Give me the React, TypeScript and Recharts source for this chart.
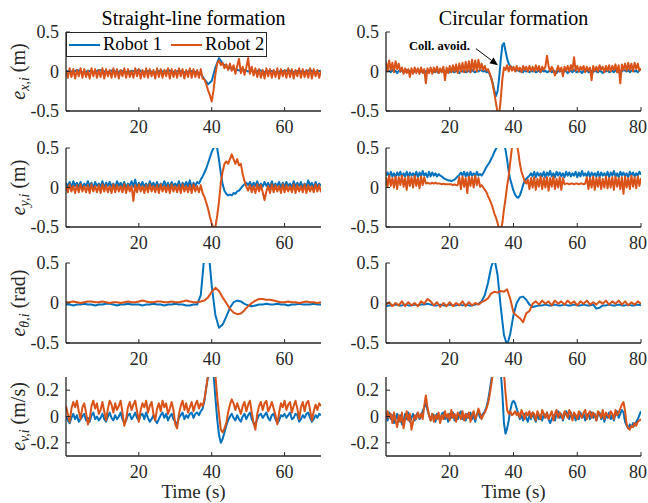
import React from "react";
import { LineChart, Line, XAxis, YAxis, Legend, ReferenceLine } from "recharts";

const BLUE = "#0072BD";
const ORANGE = "#D95319";
const AX = "#262626";
const FONT = "'Liberation Serif', 'Times New Roman', serif";

// sample spacing (s)
const DT_FINE = 0.5;
const DT_COARSE = 1;

// ---- Straight-line formation (0..70 s) ----
const exS1 = [
  0, .01, -.01, .02, 0, -.02, .01, 0, -.01, .02,
  .01, -.01, 0, .02, -.02, .01, 0, -.01, .01, 0,
  .02, -.01, 0, .01, -.02, 0, .01, -.01, .02, 0,
  -.01, .01, 0, -.02, .01, 0, -.01, -.03, -.1, -.16,
  -.12, .05, .17, .1, .06, .04, .03, .02, .01, .02,
  0, .01, -.01, .02, 0, -.01, .01, 0, -.02, .01,
  0, .02, -.01, 0, .01, -.01, 0, .02, -.01, 0,
  .01,
];
const exS2 = [
  .02, -.08, .04, -.07, .03, -.09, .02, -.06, .04, -.08,
  .03, -.07, .01, -.09, .04, -.06, .03, -.08, .02, -.07,
  .04, -.09, .03, -.06, .02, -.08, .04, -.07, .03, -.09,
  .02, -.06, .04, -.08, .03, -.07, .01, -.08, .04, -.06,
  .03, -.09, .02, -.07, .04, -.08, .03, -.06, .02, -.09,
  .04, -.07, .03, -.08, .02, -.06, .04, -.09, .03, -.07,
  .02, -.08, .04, -.06, .03, -.09, .02, -.07, .04, -.08,
  .03, -.07, .02, -.08, .03, -.09, -.1, -.16, -.24, -.3,
  -.38, -.24, -.04, .1, .14, .08, .11, .04, .09, .02,
  .1, .01, .08, -.03, .07, .16, -.02, .06, -.04, .05,
  .17, -.03, .06, -.05, .04, -.07, .03, -.08, .02, -.09,
  .04, -.06, .03, -.08, .02, -.07, .04, -.09, .03, -.06,
  .02, -.08, .04, -.07, .03, -.09, .02, -.06, .04, -.08,
  .03, -.07, .02, -.08, .04, -.09, .03, -.06, .02, -.08,
  .01,
];
const eyS1 = [
  .06, .01, .07, 0, .08, .02, .06, .01, .07, 0,
  .05, .02, .08, .01, .06, 0, .07, .02, .05, .01,
  .08, 0, .06, .02, .07, .01, .05, 0, .08, .02,
  .06, .01, .07, 0, .05, .02, .08, .01, .1, 0,
  .06, .02, .07, .01, .05, 0, .08, .02, .06, .01,
  .07, 0, .05, .02, .08, .01, .06, 0, .07, .02,
  .05, .01, .08, 0, .06, .02, .07, .01, .09, 0,
  .06, .02, .07, .05, .1, .14, .19, .24, .31, .38,
  .45, .5, .53, .5, .35, .18, .04, -.04, -.08, -.1,
  -.09, -.1, -.07, -.08, -.05, -.04, -.01, .02, .04, .06,
  .03, .07, .01, .06, .02, .08, 0, .05, .01, .07,
  .02, .06, 0, .08, .01, .05, .02, .07, 0, .06,
  .01, .07, .02, .05, 0, .08, .01, .06, .02, .07,
  0, .05, .01, .09, .02, .06, 0, .07, .01, .05,
  .02,
];
const eyS2 = [
  .03, -.06, .04, -.05, .02, -.07, .03, -.06, .04, -.05,
  .02, -.06, .03, -.07, .04, -.05, .02, -.06, .03, -.07,
  .04, -.05, .03, -.06, .02, -.07, .04, -.06, .03, -.05,
  .02, -.06, .04, -.07, .03, -.05, .02, -.17, .03, -.06,
  .04, -.05, .02, -.07, .03, -.06, .04, -.05, .02, -.06,
  .03, -.07, .04, -.05, .02, -.06, .03, -.07, .04, -.05,
  .02, -.06, .03, -.07, .04, -.05, .02, -.06, .03, -.07,
  .04, -.05, .02, -.06, .03, -.07, -.12, -.19, -.27, -.37,
  -.46, -.52, -.5, -.36, -.18, .06, .2, .3, .33, .3,
  .36, .42, .36, .3, .36, .28, .3, .17, .08, .01,
  -.04, .03, -.06, .02, -.07, .04, -.05, .03, -.06, -.16,
  -.05, .02, -.07, .04, -.06, .03, -.05, .02, -.07, .04,
  -.06, .03, -.05, .02, -.06, .04, -.07, .03, -.05, .02,
  -.06, .04, -.07, .03, -.05, .02, -.06, .04, -.05, .03,
  -.06,
];
const ethS1 = [
  -.02, -.02, -.03, -.02, -.02, -.01, -.02, -.02, -.03, -.02,
  -.02, -.01, -.01, -.02, -.03, -.02, -.02, -.01, -.02, -.02,
  -.02, -.03, -.02, -.02, -.01, -.02, -.02, -.03, -.02, -.02,
  -.01, -.02, -.02, -.03, -.03, -.02, -.02, .1, .6, .72,
  .22, -.15, -.31, -.27, -.17, -.06, .01, .03, .02, -.01,
  -.03, -.04, -.03, -.02, -.02, -.01, -.02, -.02, -.01, -.02,
  -.02, -.03, -.02, -.02, -.01, -.02, -.02, -.02, -.01, -.02,
  -.02,
];
const ethS2 = [
  .01, .01, .02, .01, 0, .01, .02, .02, .01, .01,
  .02, .01, 0, .01, .01, 0, .01, .02, .01, .01,
  .02, .03, .02, .01, .01, .02, .02, .01, .01, .02,
  .01, .01, .02, .03, .02, .01, .01, .02, .03, .07,
  .14, .19, .15, .07, 0, -.07, -.12, -.14, -.13, -.09,
  -.04, 0, .03, .05, .05, .04, .04, .03, .02, .01,
  .01, .02, .01, .01, 0, .01, .02, .01, .01, 0,
  .01,
];
const evS1 = [
  0, -.03, -.05, -.01, .02, -.02, .01, -.04, -.02, 0,
  .02, -.03, -.01, -.04, .01, .03, -.02, 0, -.03, -.01,
  .02, -.02, -.04, 0, .03, -.01, -.03, .01, -.02, 0,
  .03, -.02, -.05, -.03, .01, .02, -.02, 0, .03, -.01,
  -.03, .01, .02, -.02, .03, -.01, -.04, -.02, .01, -.03,
  -.05, -.02, .01, .03, -.01, .02, -.03, 0, .02, -.02,
  -.04, -.06, -.01, .01, .03, -.02, .01, -.01, .02, .03,
  -.01, .02, .03, .01, .04, .06, .12, .22, .3, .35,
  .36, .32, .15, -.02, -.14, -.2, -.17, -.12, -.07, -.03,
  0, .02, -.01, -.03, .01, -.02, -.04, 0, .02, -.02,
  .01, .03, -.02, -.05, -.06, -.02, .01, .02, -.01, .01,
  .03, -.01, -.03, .01, .02, -.02, -.05, -.03, .01, 0,
  .02, -.01, .01, .03, -.02, -.01, .02, .01, -.04, -.02,
  .01, -.01, .02, .03, -.01, -.04, -.02, .01, -.01, .02,
  .01,
];
const evS2 = [
  .08, .02, -.04, .06, .11, .07, .12, .04, -.02, .07,
  .1, .03, -.06, -.02, .08, .12, .06, .1, .02, .05,
  .11, .04, -.03, .06, .12, .09, .03, .1, .05, .08,
  .12, .03, -.07, -.02, .07, .11, .05, .09, .12, .04,
  -.04, .05, .1, .07, .12, .03, .08, .11, .02, -.03,
  .06, .1, .04, .12, .07, .1, .02, .06, .11, .05,
  -.06, -.09, .02, .08, .12, .05, .1, .03, .07, .11,
  .04, .09, .12, .06, .1, .08, .13, .22, .32, .38,
  .4, .38, .32, .15, .02, -.1, -.12, -.09, -.05, .03,
  .09, .13, .1, .05, .1, .06, .02, .08, .11, .04,
  .09, .12, .03, -.05, -.1, .02, .08, .11, .05, .1,
  .12, .04, .07, .11, .06, .01, -.06, .03, .1, .07,
  .12, .05, .09, .11, .03, .08, .12, .06, -.02, .07,
  .11, .04, .1, .12, .05, -.03, .04, .09, .05, .1,
  .08,
];

// ---- Circular formation (0..80 s) ----
const exC1 = [
  .02, 0, .01, -.01, .02, 0, .01, -.02, .01, 0,
  .01, -.01, 0, .02, -.01, .01, 0, -.02, .01, 0,
  .02, -.01, 0, .01, -.02, 0, .01, -.01, .02, 0,
  -.01, .01, 0, -.02, .01, 0, .02, -.01, 0, .01,
  -.01, .02, 0, -.01, .01, 0, -.02, .01, 0, .02,
  -.01, 0, .01, -.01, .02, 0, -.01, .01, 0, .02,
  .01, 0, .01, -.01, 0, -.03, -.08, -.15, -.24, -.31,
  -.25, -.08, .15, .33, .36, .26, .16, .1, .07, .05,
  .03, .02, .01, .02, 0, .01, -.01, .02, 0, .01,
  -.01, .01, 0, .02, -.01, 0, .01, -.01, .02, 0,
  .01, -.01, 0, .02, -.01, .01, 0, -.02, .01, 0,
  .02, -.01, 0, .01, -.02, 0, .01, -.01, .02, 0,
  -.01, .01, 0, -.02, .01, 0, .02, -.01, 0, .01,
  -.01, .02, 0, -.01, .01, 0, -.02, .01, 0, .02,
  -.01, 0, .01, -.01, .02, 0, -.01, .01, 0, .02,
  .01, 0, .02, -.01, .01, .02, 0, .01, -.01, .02, .03,
];
const exC2 = [
  .12, 0, .14, .02, .11, -.01, .13, .03, .1, 0,
  .05, -.03, .04, -.02, .03, -.07, .04, -.03, .05, -.02,
  .04, -.03, .05, -.02, .03, -.15, .04, -.02, .05, -.03,
  .05, -.01, .06, -.02, .04, -.01, .06, -.11, .05, -.02,
  .07, -.01, .08, 0, .09, -.02, .1, 0, .11, -.01,
  .12, 0, .13, -.01, .15, .01, .14, 0, .15, .02,
  .1, .02, .07, .01, .03, -.02, -.08, -.17, -.28, -.4,
  -.52, -.55, -.35, -.1, .05, .02, .08, 0, .07, .01,
  .06, 0, .07, .01, .05, -.01, .07, .02, .06, 0,
  .07, .01, .06, 0, .08, .01, .07, -.01, .06, .02,
  .06, .2, .07, 0, .06, .02, -.05, .01, .07, 0,
  .05, -.06, .06, .01, .07, 0, .08, .02, .18, .01,
  .07, 0, .06, .02, .07, -.01, .06, .01, .05, -.11,
  .07, .01, .06, 0, .08, .02, .06, -.01, .07, .01,
  .08, 0, .07, .02, .09, -.01, .08, -.15, .09, .02,
  .1, .01, .11, .02, .1, 0, .11, .03, .1, .01, .04,
];
const eyC1 = [
  .15, .19, .13, .2, .14, .18, .13, .19, .15, .2,
  .13, .18, .14, .2, .13, .19, .15, .18, .14, .2,
  .13, .19, .14, .21, .15, .18, .13, .2, .14, .19,
  .15, .18, .14, .17, .15, .14, .12, .11, .1, .09,
  .09, .08, .09, .1, .12, .14, .16, .19, .15, .2,
  .14, .19, .13, .2, .15, .18, .14, .2, .15, .17,
  .15, .18, .22, .26, .29, .32, .36, .4, .45, .49,
  .52, .56, .58, .57, .54, .48, .35, .2, .1, .03,
  -.04, -.09, -.12, -.13, -.1, -.04, .03, .08, .11, .13,
  .15, .18, .14, .2, .13, .19, .15, .18, .14, .2,
  .13, .19, .15, .21, .14, .18, .13, .2, .15, .19,
  .14, .18, .13, .2, .15, .19, .14, .18, .15, .2,
  .13, .19, .14, .21, .15, .18, .14, .2, .13, .19,
  .15, .18, .14, .2, .13, .19, .15, .18, .14, .2,
  .13, .19, .15, .21, .14, .18, .13, .2, .15, .19,
  .14, .18, .13, .2, .15, .19, .14, .18, .15, .2, .16,
];
const eyC2 = [
  .13, .01, .15, .02, .12, 0, .14, -.02, .13, .03,
  .15, .01, .12, -.03, .14, .02, .13, 0, .15, .02,
  .12, -.01, .14, .03, .13, .05, .06, .05, .05, .06,
  .05, .06, .05, .05, .05, .04, .05, .04, .04, .04,
  .04, .04, .03, .04, .03, .03, .13, -.02, .14, .01,
  .12, -.07, .14, .02, .13, 0, .15, .03, .12, .01,
  .03, 0, -.03, -.06, -.11, -.15, -.2, -.26, -.33, -.38,
  -.45, -.52, -.55, -.45, -.28, -.14, .02, .15, .33, .5,
  .58, .6, .56, .45, .3, .2, .14, .08, .05, .1,
  -.02, .12, 0, .13, -.03, .11, .01, .14, -.02, .12,
  0, .13, -.04, .12, .01, .14, -.02, .11, 0, .13,
  -.03, .12, .04, .05, .05, .04, .05, .05, .04, .05,
  .05, .04, .05, .05, .04, .05, .13, -.02, .12, 0,
  .14, -.03, .12, .01, .13, -.02, .11, 0, .14, -.01,
  .12, 0, .13, -.03, .14, .01, .12, -.02, .13, -.08,
  .14, 0, .12, -.02, .15, .01, .13, -.01, .14, .02, .12,
];
const ethC1 = [
  -.04, -.03, -.03, -.02, -.03, -.03, -.02, -.03, -.03, -.02,
  -.03, -.02, -.02, -.01, -.02, -.03, -.03, -.02, -.03, -.03,
  -.02, -.03, -.03, -.02, -.03, -.02, -.03, -.03, -.02, -.01,
  .02, .1, .25, .45, .56, .35, -.05, -.4, -.53, -.38,
  -.15, 0, .07, .08, .04, -.02, -.05, -.04, -.03, -.03,
  -.02, -.03, -.03, -.02, -.03, -.03, -.02, -.03, -.03, -.02,
  -.03, -.03, -.02, -.03, -.03, -.02, -.07, -.06, -.03, -.03,
  -.02, -.03, -.03, -.02, -.03, -.03, -.02, -.03, -.03, -.02,
  -.03,
];
const ethC2 = [
  -.02, .01, -.04, 0, -.03, .02, -.04, .01, -.03, 0,
  -.04, .02, -.01, .05, .02, -.03, .01, -.05, 0, -.04,
  .01, -.04, 0, -.03, .02, -.04, .01, -.03, 0, -.02,
  .01, .03, .06, .12, .14, .13, .15, .14, .17, .05,
  -.12, -.16, -.19, -.24, -.13, -.1, -.01, .02, -.02, .03,
  -.01, .02, -.03, .03, -.01, .02, -.02, .03, -.01, .02,
  -.03, .02, -.01, .03, -.02, .01, -.02, .02, -.01, .03,
  -.02, .02, -.01, .03, -.02, .02, -.03, .01, -.02, .02,
  -.01,
];
const evC1 = [
  .02, -.03, .03, -.02, .01, -.05, -.02, .02, -.04, .01,
  -.06, -.03, .02, -.02, .03, -.04, -.01, .02, -.03, .01,
  .03, -.02, .01, .04, .07, .1, .05, .01, -.03, .02,
  .01, -.04, .02, -.01, -.03, .02, .03, -.02, .01, -.04,
  .02, -.01, .03, -.03, .01, -.02, .02, .04, -.02, .01,
  -.03, .02, -.01, .03, -.02, .01, -.04, .02, .03, -.01,
  .01, .02, .04, .07, .12, .19, .27, .35, .42, .45,
  .44, .4, .34, .18, -.05, -.13, -.09, -.03, .05, .1,
  .12, .1, .06, .02, -.02, .01, -.03, .02, -.01, -.04,
  .01, -.02, .03, -.01, -.04, .02, -.02, .01, -.03, .02,
  -.01, .03, -.02, -.05, -.02, .01, -.03, .02, .04, -.01,
  .02, -.03, .01, .04, .02, -.02, .03, -.01, .02, -.03,
  .01, -.02, .03, -.01, .02, -.03, .01, .02, -.02, .03,
  -.01, .02, -.03, .01, .03, -.02, .01, -.04, .02, -.01,
  .03, -.02, .01, -.03, .02, .04, -.01, .02, .05, .03,
  -.04, -.07, -.09, -.06, -.08, -.05, -.07, -.04, -.02, .01, .04,
];
const evC2 = [
  -.02, .04, -.01, .02, -.05, .03, -.03, -.08, .01, -.04,
  .03, -.09, -.02, .04, -.03, .02, -.1, -.04, .01, -.02,
  .03, -.01, .02, -.02, .08, .16, .07, .01, -.03, .02,
  -.04, .01, -.02, .03, -.05, .01, -.02, .04, -.01, .02,
  -.03, .05, -.01, .02, -.04, .03, .01, -.02, .04, -.03,
  .02, -.01, .03, -.04, .01, .04, -.02, .01, .06, .02,
  -.02, .01, .03, .06, .1, .16, .24, .32, .4, .45,
  .47, .46, .44, .4, .33, .18, .05, .02, .04, .01,
  .02, .04, .01, .03, -.01, .05, .02, -.02, .03, .01,
  .04, -.01, .03, .02, -.03, .04, .01, -.02, .05, .02,
  -.01, .03, -.02, .01, .04, -.03, .02, .05, -.01, .03,
  .01, -.02, .04, .02, -.01, .05, .02, -.03, .03, .01,
  -.02, .04, .01, -.01, .03, .05, -.02, .02, .04, -.01,
  .03, .01, -.03, .04, .02, -.01, .05, -.02, .03, .01,
  -.01, .04, .02, -.02, .05, .01, .03, .06, .09, .11,
  .04, -.06, -.09, -.1, -.07, -.08, -.05, -.07, -.04, -.03, -.02,
];

const seriesNames = ["Robot 1", "Robot 2"];
const colTitles = ["Straight-line formation", "Circular formation"];
const rowLabels = [
  { sub: "x,i", unit: "(m)" },
  { sub: "y,i", unit: "(m)" },
  { sub: "\u03b8,i", unit: "(rad)" },
  { sub: "v,i", unit: "(m/s)" },
];
const xMaxes = [70, 80];
const xTicksByCol = [[20, 40, 60], [20, 40, 60, 80]];
const yDomainErr: [number, number] = [-0.5, 0.5];
const yTicksErr = [-0.5, 0, 0.5];
const yDomainVel: [number, number] = [-0.3, 0.3];
const yTicksVel = [-0.2, 0, 0.2];
// annotation arrow (time, value) on circular e_x
const noteFrom = [28.2, 0.29];
const noteTo = [35.1, 0.08];

// layout
const PAGE_W = 648;
const COL_X = [66, 386];
const PLOT_W = 255;
const ROW_Y = [32, 148, 263, 377];
const ROW_H = [79, 79, 80, 79];
const ML = 60, MT = 12, MR = 14, MB = 30;

const toSeries = (vals: number[], dt: number) => vals.map((v, i) => ({ t: i * dt, v }));

const tickFn = (side: "bottom" | "top" | "left" | "right", label: boolean, maxLabelX = Infinity) => (p: any) => {
  const { x, y, payload } = p;
  const L = 4;
  let ln: [number, number, number, number];
  if (side === "bottom") ln = [x, y, x, y - L];
  else if (side === "top") ln = [x, y, x, y + L];
  else if (side === "left") ln = [x, y, x + L, y];
  else ln = [x, y, x - L, y];
  return (
    <g>
      <line x1={ln[0]} y1={ln[1]} x2={ln[2]} y2={ln[3]} stroke={AX} strokeWidth={1} />
      {label && side === "bottom" && (
        <text x={Math.min(x, maxLabelX)} y={y + 22} textAnchor="middle" fontSize={18} fill={AX} fontFamily={FONT}>
          {payload.value}
        </text>
      )}
      {label && side === "left" && (
        <text x={x - 7} y={y + 6} textAnchor="end" fontSize={18} fill={AX} fontFamily={FONT}>
          {payload.value}
        </text>
      )}
    </g>
  );
};

const arrowShape = (p: any) => {
  const { x1, y1, x2, y2 } = p;
  const dx = x2 - x1;
  const dy = y2 - y1;
  const len = Math.hypot(dx, dy) || 1;
  const ux = dx / len;
  const uy = dy / len;
  const hl = 8;
  const hw = 3.5;
  const bx = x2 - ux * hl;
  const by = y2 - uy * hl;
  return (
    <g>
      <line x1={x1} y1={y1} x2={bx} y2={by} stroke="#000" strokeWidth={1} />
      <polygon points={`${x2},${y2} ${bx - uy * hw},${by + ux * hw} ${bx + uy * hw},${by - ux * hw}`} fill="#000" />
      <text x={x1 - 6} y={y1 + 1} textAnchor="end" fontSize={12.5} fontWeight="bold" fill="#000" fontFamily={FONT}>
        Coll. avoid.
      </text>
    </g>
  );
};

const renderLegend = (props: any) => (
  <div
    style={{
      boxSizing: "border-box",
      width: 201,
      height: 25,
      border: `1px solid ${AX}`,
      background: "#fff",
      display: "flex",
      alignItems: "center",
      fontSize: 18.5,
      color: "#000",
      whiteSpace: "nowrap",
      fontFamily: FONT,
    }}
  >
    {(props.payload ?? []).map((e: any, i: number) => (
      <div key={i} style={{ display: "flex", alignItems: "center", marginLeft: i === 0 ? 2 : 9 }}>
        <span style={{ display: "inline-block", width: 31, height: 2, background: e.color, marginRight: 3 }} />
        <span>{e.value}</span>
      </div>
    ))}
  </div>
);

type PanelProps = {
  col: number;
  row: number;
  blue: number[];
  blueDt: number;
  orange: number[];
  orangeDt: number;
  legend?: boolean;
  note?: boolean;
};

function Panel({ col, row, blue, blueDt, orange, orangeDt, legend, note }: PanelProps) {
  const w = PLOT_W;
  const h = ROW_H[row];
  const xMax = xMaxes[col];
  const xTicks = xTicksByCol[col];
  const vel = row === 3;
  const yDomain = vel ? yDomainVel : yDomainErr;
  const yTicks = vel ? yTicksVel : yTicksErr;
  const axisLine = { stroke: AX, strokeWidth: 1.3 };
  const chartLeft = COL_X[col] - ML;
  // keep the last tick label inside the page
  const maxLabelX = PAGE_W - chartLeft - 10;
  return (
    <div style={{ position: "absolute", left: chartLeft, top: ROW_Y[row] - MT }}>
      <LineChart width={w + ML + MR} height={h + MT + MB} margin={{ top: MT, right: MR, bottom: 0, left: 0 }}>
        <XAxis dataKey="t" type="number" domain={[0, xMax]} ticks={xTicks} interval={0} allowDataOverflow
          height={MB} tickSize={0} tickMargin={0} tickLine={false} axisLine={axisLine} tick={tickFn("bottom", true, maxLabelX)} />
        <XAxis xAxisId="top" orientation="top" type="number" domain={[0, xMax]} ticks={xTicks} interval={0} allowDataOverflow
          height={0} tickSize={0} tickMargin={0} tickLine={false} axisLine={axisLine} tick={tickFn("top", false)} />
        <YAxis type="number" domain={yDomain} ticks={yTicks} interval={0} allowDataOverflow
          width={ML} tickSize={0} tickMargin={0} tickLine={false} axisLine={axisLine} tick={tickFn("left", true)} />
        <YAxis yAxisId="right" orientation="right" type="number" domain={yDomain} ticks={yTicks} interval={0} allowDataOverflow
          width={0} tickSize={0} tickMargin={0} tickLine={false} axisLine={axisLine} tick={tickFn("right", false)} />
        <Line data={toSeries(blue, blueDt)} dataKey="v" name={seriesNames[0]} stroke={BLUE} strokeWidth={2}
          strokeLinejoin="round" dot={false} activeDot={false} isAnimationActive={false} />
        <Line data={toSeries(orange, orangeDt)} dataKey="v" name={seriesNames[1]} stroke={ORANGE} strokeWidth={2}
          strokeLinejoin="round" dot={false} activeDot={false} isAnimationActive={false} />
        {note && (
          <ReferenceLine
            segment={[{ x: noteFrom[0], y: noteFrom[1] }, { x: noteTo[0], y: noteTo[1] }]}
            shape={arrowShape}
          />
        )}
        {legend && (
          <Legend verticalAlign="middle" align="center" layout="horizontal" content={renderLegend}
            wrapperStyle={{ left: ML, top: MT, width: 201, height: 25 }} />
        )}
      </LineChart>
    </div>
  );
}

export default function App() {
  return (
    <div style={{ position: "absolute", left: 0, top: 0, width: PAGE_W, height: 503, background: "#fff", fontFamily: FONT, overflow: "hidden" }}>
      <Panel col={0} row={0} blue={exS1} blueDt={DT_COARSE} orange={exS2} orangeDt={DT_FINE} legend />
      <Panel col={0} row={1} blue={eyS1} blueDt={DT_FINE} orange={eyS2} orangeDt={DT_FINE} />
      <Panel col={0} row={2} blue={ethS1} blueDt={DT_COARSE} orange={ethS2} orangeDt={DT_COARSE} />
      <Panel col={0} row={3} blue={evS1} blueDt={DT_FINE} orange={evS2} orangeDt={DT_FINE} />
      <Panel col={1} row={0} blue={exC1} blueDt={DT_FINE} orange={exC2} orangeDt={DT_FINE} note />
      <Panel col={1} row={1} blue={eyC1} blueDt={DT_FINE} orange={eyC2} orangeDt={DT_FINE} />
      <Panel col={1} row={2} blue={ethC1} blueDt={DT_COARSE} orange={ethC2} orangeDt={DT_COARSE} />
      <Panel col={1} row={3} blue={evC1} blueDt={DT_FINE} orange={evC2} orangeDt={DT_FINE} />
      <svg width={PAGE_W} height={503} style={{ position: "absolute", left: 0, top: 0, pointerEvents: "none" }}>
        {colTitles.map((t, c) => (
          <text key={t} x={COL_X[c] + PLOT_W / 2} y={25} textAnchor="middle" fontSize={20} fill="#000" fontFamily={FONT}>
            {t}
          </text>
        ))}
        {rowLabels.map((r, i) => (
          <text key={i} transform={`translate(25, ${ROW_Y[i] + ROW_H[i] / 2}) rotate(-90)`} textAnchor="middle"
            fontSize={20} fill={AX} fontFamily={FONT}>
            <tspan fontStyle="italic">e</tspan>
            <tspan fontStyle="italic" fontSize={14} dy={4}>{r.sub}</tspan>
            <tspan dy={-4}>{"\u00a0" + r.unit}</tspan>
          </text>
        ))}
        {COL_X.map((x, c) => (
          <text key={c} x={x + PLOT_W / 2} y={498} textAnchor="middle" fontSize={19} fill={AX} fontFamily={FONT}>
            Time (s)
          </text>
        ))}
      </svg>
    </div>
  );
}
